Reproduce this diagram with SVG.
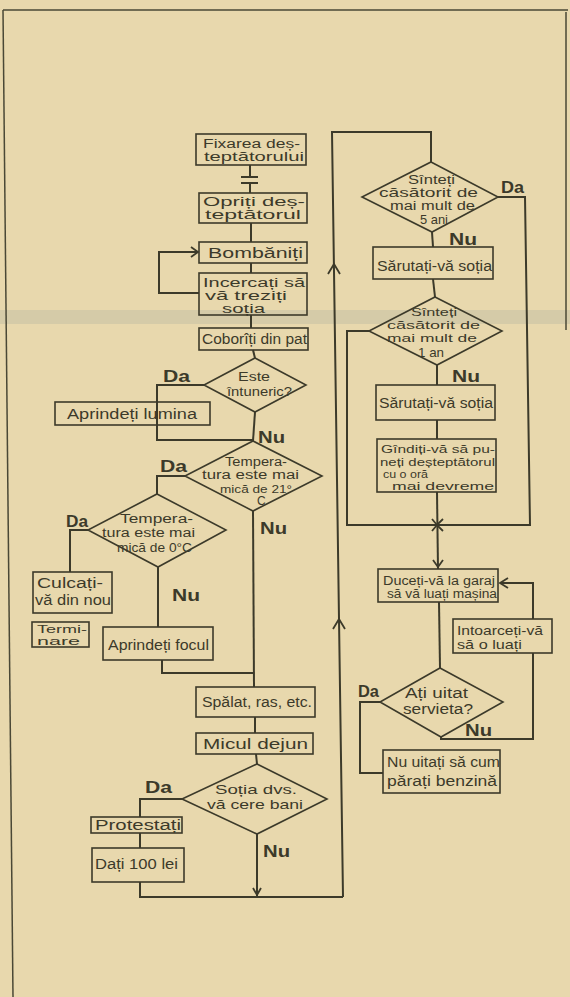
<svg xmlns="http://www.w3.org/2000/svg" width="570" height="997" viewBox="0 0 570 997">
<defs>
<style>
.bg{fill:#e8d8ad}
.box{fill:none;stroke:#3c3a2a;stroke-width:1.6}
.dia{fill:none;stroke:#3c3a2a;stroke-width:1.6}
.ln{fill:none;stroke:#3c3a2a;stroke-width:2}
.ah{fill:none;stroke:#3c3a2a;stroke-width:1.8}
.t{font-family:"Liberation Sans","DejaVu Sans",sans-serif;font-size:14px;fill:#3c3a2a}
.m{font-family:"Liberation Sans","DejaVu Sans",sans-serif;font-size:13px;fill:#3c3a2a}
.d{font-family:"Liberation Sans","DejaVu Sans",sans-serif;font-size:12px;fill:#3c3a2a}
.s{font-family:"Liberation Sans","DejaVu Sans",sans-serif;font-size:11px;fill:#3c3a2a}
.lb{font-family:"Liberation Sans","DejaVu Sans",sans-serif;font-size:16px;font-weight:bold;fill:#3c3a2a}
.fr{fill:none;stroke:#4a4836;stroke-width:1.5}
</style>
</defs>
<rect class="bg" x="0" y="0" width="570" height="997"/>
<rect x="0" y="310" width="570" height="14" fill="#a9aba0" opacity="0.3"/>
<g id="frame">
<line class="fr" x1="3" y1="10" x2="568" y2="10"/>
<line class="fr" x1="3" y1="10" x2="13" y2="997"/>
<line class="fr" x1="566" y1="12" x2="566" y2="330"/>
</g>
<g id="connectors">
<polyline class="ln" points="250,165 250,177"/>
<line class="ln" x1="241" y1="177" x2="258" y2="177"/>
<line class="ln" x1="241" y1="183" x2="258" y2="183"/>
<polyline class="ln" points="250,183 250,193"/>
<polyline class="ln" points="251,223 251,242"/>
<polyline class="ln" points="251,263 251,273"/>
<polyline class="ln" points="251,315 251,328"/>
<polyline class="ln" points="253,350 255,358"/>
<polyline class="ln" points="199,293 159,293 159,252 198,252"/>
<polyline class="ah" points="191,247 198,252 191,257"/>
<polyline class="ln" points="204,385 157,385 157,440 253,440"/>
<polyline class="ln" points="255,412 253,441"/>
<polyline class="ln" points="185,476 157,476 157,494"/>
<polyline class="ln" points="88,530 70,530 70,572"/>
<polyline class="ln" points="158,567 158,627"/>
<polyline class="ln" points="162,660 162,673 253,673"/>
<polyline class="ln" points="253,511 254,687"/>
<polyline class="ln" points="255,717 255,733"/>
<polyline class="ln" points="256,754 257,764"/>
<polyline class="ln" points="182,799 140,799 140,817"/>
<polyline class="ln" points="140,833 140,848"/>
<polyline class="ln" points="140,882 140,897 343,897"/>
<polyline class="ln" points="257,834 257,897"/>
<polyline class="ah" points="253,888 257,895 261,888"/>
<polyline class="ln" points="343,897 332,132 431,132 431,162"/>
<polyline class="ah" points="328,274 334,264 340,274"/>
<polyline class="ah" points="333,629 339,619 345,629"/>
<polyline class="ln" points="432,232 433,247"/>
<polyline class="ln" points="433,279 435,297"/>
<polyline class="ln" points="498,197 525,197 530,525 347,525 347,331 369,331"/>
<polyline class="ln" points="437,365 437,385"/>
<polyline class="ln" points="437,420 437,439"/>
<polyline class="ln" points="437,492 438,569"/>
<polyline class="ah" points="432,519 437,525 443,519"/>
<polyline class="ah" points="432,531 437,525 443,531"/>
<polyline class="ah" points="433,560 438,567 443,560"/>
<polyline class="ln" points="439,602 440,668"/>
<polyline class="ln" points="380,702 360,702 360,773 383,773"/>
<polyline class="ln" points="441,737 441,739 533,739 533,653"/>
<polyline class="ln" points="533,619 533,583 500,583"/>
<polyline class="ah" points="508,578 500,583 508,588"/>
</g>
<g id="n_fixarea"><rect class="box" x="196" y="134" width="110" height="31"/>
<text class="d" x="203" y="148" textLength="97" lengthAdjust="spacingAndGlyphs">Fixarea deș-</text>
<text class="d" x="204" y="161" textLength="100" lengthAdjust="spacingAndGlyphs">teptătorului</text></g>
<g id="n_opriti"><rect class="box" x="199" y="193" width="108" height="30"/>
<text class="d" x="203" y="206" textLength="102" lengthAdjust="spacingAndGlyphs">Opriți deș-</text>
<text class="d" x="205" y="219" textLength="96" lengthAdjust="spacingAndGlyphs">teptătorul</text></g>
<g id="n_bombaniti"><rect class="box" x="199" y="242" width="108" height="21"/>
<text class="t" x="208" y="258" textLength="95" lengthAdjust="spacingAndGlyphs">Bombăniți</text></g>
<g id="n_incercati"><rect class="box" x="199" y="273" width="108" height="42"/>
<text class="d" x="203" y="287" textLength="102" lengthAdjust="spacingAndGlyphs">Incercați să</text>
<text class="d" x="205" y="300" textLength="82" lengthAdjust="spacingAndGlyphs">vă treziți</text>
<text class="d" x="222" y="313" textLength="43" lengthAdjust="spacingAndGlyphs">soția</text></g>
<g id="n_coboriti"><rect class="box" x="199" y="328" width="109" height="22"/>
<text class="t" x="202" y="344" textLength="105" lengthAdjust="spacingAndGlyphs">Coborîți din pat</text></g>
<g id="n_intuneric"><polygon class="dia" points="255,358 306,385 255,412 204,385"/>
<text class="m" x="238" y="381" textLength="32" lengthAdjust="spacingAndGlyphs">Este</text>
<text class="m" x="227" y="396" textLength="65" lengthAdjust="spacingAndGlyphs">întuneric?</text></g>
<text class="lb" x="163" y="382" textLength="27" lengthAdjust="spacingAndGlyphs">Da</text>
<text class="lb" x="258" y="443" textLength="27" lengthAdjust="spacingAndGlyphs">Nu</text>
<g id="n_lumina"><rect class="box" x="55" y="402" width="155" height="23"/>
<text class="t" x="67" y="419" textLength="130" lengthAdjust="spacingAndGlyphs">Aprindeți lumina</text></g>
<g id="n_temp21"><polygon class="dia" points="253,441 322,476 253,511 185,476"/>
<text class="d" x="225" y="466" textLength="62" lengthAdjust="spacingAndGlyphs">Tempera-</text>
<text class="d" x="202" y="479" textLength="97" lengthAdjust="spacingAndGlyphs">tura este mai</text>
<text class="s" x="220" y="493" textLength="72" lengthAdjust="spacingAndGlyphs">mică de 21°</text>
<text class="d" x="257" y="505" font-size="10">C</text></g>
<text class="lb" x="160" y="472" textLength="27" lengthAdjust="spacingAndGlyphs">Da</text>
<text class="lb" x="260" y="534" textLength="27" lengthAdjust="spacingAndGlyphs">Nu</text>
<g id="n_temp0"><polygon class="dia" points="157,494 226,530 158,567 88,530"/>
<text class="d" x="120" y="523" textLength="73" lengthAdjust="spacingAndGlyphs">Tempera-</text>
<text class="d" x="102" y="537" textLength="93" lengthAdjust="spacingAndGlyphs">tura este mai</text>
<text class="d" x="117" y="552" textLength="75" lengthAdjust="spacingAndGlyphs">mică de 0°C</text></g>
<text class="lb" x="66" y="527" textLength="22" lengthAdjust="spacingAndGlyphs">Da</text>
<text class="lb" x="172" y="601" textLength="28" lengthAdjust="spacingAndGlyphs">Nu</text>
<g id="n_culcati"><rect class="box" x="33" y="572" width="79" height="41"/>
<text class="t" x="37" y="588" textLength="66" lengthAdjust="spacingAndGlyphs">Culcați-</text>
<text class="t" x="35" y="605" textLength="76" lengthAdjust="spacingAndGlyphs">vă din nou</text></g>
<g id="n_terminare"><rect class="box" x="32" y="622" width="57" height="25"/>
<text class="s" x="37" y="633" textLength="50" lengthAdjust="spacingAndGlyphs">Termi-</text>
<text class="s" x="37" y="645" textLength="43" lengthAdjust="spacingAndGlyphs">nare</text></g>
<g id="n_focul"><rect class="box" x="103" y="627" width="110" height="33"/>
<text class="t" x="108" y="650" textLength="101" lengthAdjust="spacingAndGlyphs">Aprindeți focul</text></g>
<g id="n_spalat"><rect class="box" x="196" y="687" width="119" height="30"/>
<text class="t" x="202" y="707" textLength="110" lengthAdjust="spacingAndGlyphs">Spălat, ras, etc.</text></g>
<g id="n_micul"><rect class="box" x="196" y="733" width="117" height="21"/>
<text class="t" x="203" y="749" textLength="105" lengthAdjust="spacingAndGlyphs">Micul dejun</text></g>
<g id="n_sotia"><polygon class="dia" points="257,764 327,799 257,834 182,799"/>
<text class="m" x="215" y="794" textLength="82" lengthAdjust="spacingAndGlyphs">Soția dvs.</text>
<text class="m" x="207" y="809" textLength="96" lengthAdjust="spacingAndGlyphs">vă cere bani</text></g>
<text class="lb" x="145" y="793" textLength="27" lengthAdjust="spacingAndGlyphs">Da</text>
<text class="lb" x="263" y="857" textLength="27" lengthAdjust="spacingAndGlyphs">Nu</text>
<g id="n_protestati"><rect class="box" x="91" y="817" width="91" height="16"/>
<text class="t" x="95" y="830" textLength="86" lengthAdjust="spacingAndGlyphs">Protestați</text></g>
<g id="n_dati"><rect class="box" x="92" y="848" width="92" height="34"/>
<text class="t" x="95" y="869" textLength="83" lengthAdjust="spacingAndGlyphs">Dați 100 lei</text></g>
<g id="n_sinteti5"><polygon class="dia" points="431,162 498,197 432,232 362,197"/>
<text class="d" x="408" y="184" textLength="47" lengthAdjust="spacingAndGlyphs">Sînteți</text>
<text class="d" x="379" y="197" textLength="99" lengthAdjust="spacingAndGlyphs">căsătorit de</text>
<text class="d" x="390" y="210" textLength="85" lengthAdjust="spacingAndGlyphs">mai mult de</text>
<text class="m" x="420" y="224" textLength="28" lengthAdjust="spacingAndGlyphs">5 ani</text></g>
<text class="lb" x="501" y="193" textLength="23" lengthAdjust="spacingAndGlyphs">Da</text>
<text class="lb" x="449" y="245" textLength="28" lengthAdjust="spacingAndGlyphs">Nu</text>
<g id="n_sarutati1"><rect class="box" x="373" y="247" width="120" height="32"/>
<text class="t" x="377" y="271" textLength="115" lengthAdjust="spacingAndGlyphs">Sărutați-vă soția</text></g>
<g id="n_sinteti1"><polygon class="dia" points="435,297 502,331 437,365 369,331"/>
<text class="s" x="411" y="316" textLength="46" lengthAdjust="spacingAndGlyphs">Sînteți</text>
<text class="s" x="387" y="329" textLength="93" lengthAdjust="spacingAndGlyphs">căsătorit de</text>
<text class="s" x="387" y="342" textLength="90" lengthAdjust="spacingAndGlyphs">mai mult de</text>
<text class="m" x="418" y="357" textLength="26" lengthAdjust="spacingAndGlyphs">1 an</text></g>
<text class="lb" x="452" y="382" textLength="28" lengthAdjust="spacingAndGlyphs">Nu</text>
<g id="n_sarutati2"><rect class="box" x="376" y="385" width="119" height="35"/>
<text class="t" x="379" y="408" textLength="114" lengthAdjust="spacingAndGlyphs">Sărutați-vă soția</text></g>
<g id="n_ganditi"><rect class="box" x="377" y="439" width="119" height="53"/>
<text class="s" x="381" y="453" textLength="114" lengthAdjust="spacingAndGlyphs">Gîndiți-vă să pu-</text>
<text class="s" x="380" y="466" textLength="115" lengthAdjust="spacingAndGlyphs">neți deșteptătorul</text>
<text class="s" x="383" y="478" textLength="45" lengthAdjust="spacingAndGlyphs">cu o oră</text>
<text class="s" x="392" y="490" textLength="102" lengthAdjust="spacingAndGlyphs">mai devreme</text></g>
<g id="n_duceti"><rect class="box" x="378" y="569" width="120" height="33"/>
<text class="d" x="383" y="585" textLength="112" lengthAdjust="spacingAndGlyphs">Duceți-vă la garaj</text>
<text class="d" x="387" y="598" textLength="110" lengthAdjust="spacingAndGlyphs">să vă luați mașina</text></g>
<g id="n_intoarceti"><rect class="box" x="453" y="619" width="99" height="34"/>
<text class="m" x="457" y="635" textLength="86" lengthAdjust="spacingAndGlyphs">Intoarceți-vă</text>
<text class="m" x="457" y="649" textLength="65" lengthAdjust="spacingAndGlyphs">să o luați</text></g>
<g id="n_uitat"><polygon class="dia" points="440,668 503,702 441,737 380,702"/>
<text class="t" x="405" y="698" textLength="63" lengthAdjust="spacingAndGlyphs">Ați uitat</text>
<text class="t" x="403" y="714" textLength="70" lengthAdjust="spacingAndGlyphs">servieta?</text></g>
<text class="lb" x="358" y="697" textLength="21" lengthAdjust="spacingAndGlyphs">Da</text>
<text class="lb" x="465" y="736" textLength="27" lengthAdjust="spacingAndGlyphs">Nu</text>
<g id="n_benzina"><rect class="box" x="383" y="750" width="117" height="43"/>
<text class="t" x="387" y="767" textLength="113" lengthAdjust="spacingAndGlyphs">Nu uitați să cum</text>
<text class="t" x="387" y="786" textLength="110" lengthAdjust="spacingAndGlyphs">părați benzină</text></g>
</svg>
